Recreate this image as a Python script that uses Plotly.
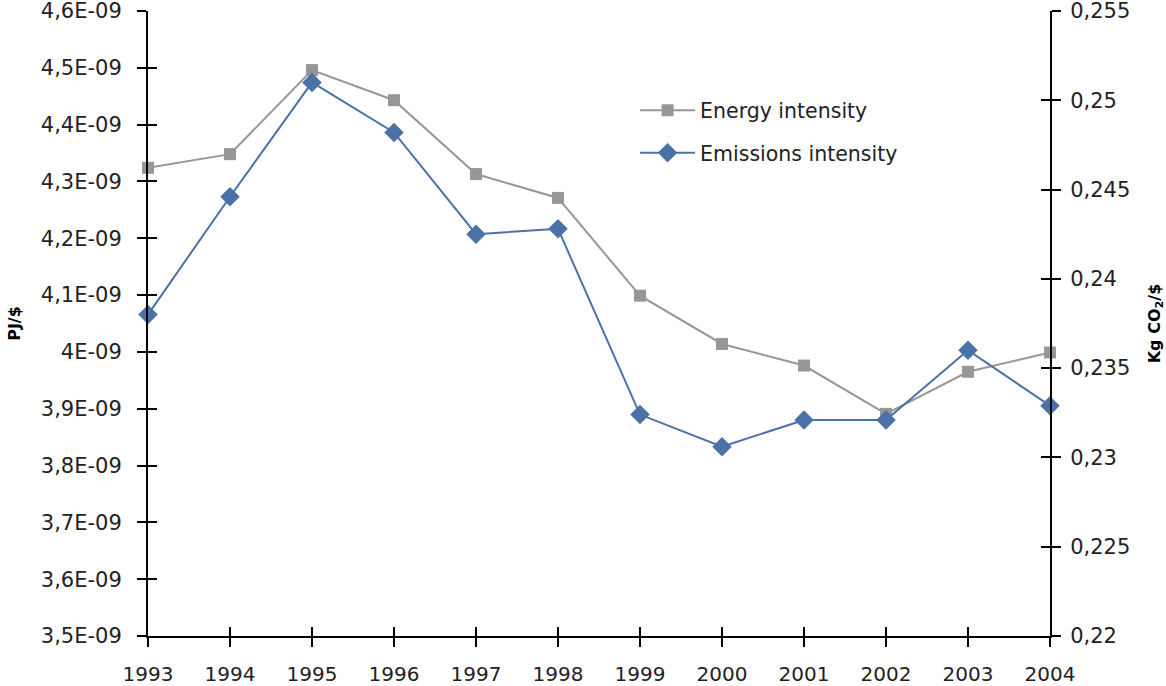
import plotly.graph_objects as go

years = [1993, 1994, 1995, 1996, 1997, 1998, 1999, 2000, 2001, 2002, 2003, 2004]
energy_intensity = [4.324e-9, 4.348e-9, 4.496e-9, 4.443e-9, 4.313e-9, 4.271e-9,
                    4.099e-9, 4.014e-9, 3.976e-9, 3.891e-9, 3.965e-9, 3.999e-9]
emissions_intensity = [0.2380, 0.2446, 0.2510, 0.2482, 0.2425, 0.2428,
                       0.2324, 0.2306, 0.2321, 0.2321, 0.2360, 0.2329]

left_tickvals = [3.5e-9, 3.6e-9, 3.7e-9, 3.8e-9, 3.9e-9, 4.0e-9, 4.1e-9, 4.2e-9, 4.3e-9, 4.4e-9, 4.5e-9, 4.6e-9]
left_ticktext = ["3,5E-09", "3,6E-09", "3,7E-09", "3,8E-09", "3,9E-09", "4E-09",
                 "4,1E-09", "4,2E-09", "4,3E-09", "4,4E-09", "4,5E-09", "4,6E-09"]
right_tickvals = [0.22, 0.225, 0.23, 0.235, 0.24, 0.245, 0.25, 0.255]
right_ticktext = ["0,22", "0,225", "0,23", "0,235", "0,24", "0,245", "0,25", "0,255"]

FONT = "DejaVu Sans"
TXT = "#222222"
GRAY = "#969799"
BLUE = "#4A72A6"

fig = go.Figure()
# invisible helper traces so the inner tick-mark axes get drawn
fig.add_trace(go.Scatter(x=years, y=energy_intensity, xaxis="x2", yaxis="y3", mode="lines",
                         line=dict(width=0, color="rgba(0,0,0,0)"), showlegend=False,
                         hoverinfo="skip"))
fig.add_trace(go.Scatter(x=years, y=emissions_intensity, xaxis="x2", yaxis="y4", mode="lines",
                         line=dict(width=0, color="rgba(0,0,0,0)"), showlegend=False,
                         hoverinfo="skip"))
fig.add_trace(go.Scatter(
    x=years, y=energy_intensity, name="Energy intensity", mode="lines+markers",
    line=dict(color=GRAY, width=2), marker=dict(symbol="square", size=12, color=GRAY),
    yaxis="y", legendgroup="a", cliponaxis=False))
fig.add_trace(go.Scatter(
    x=years, y=emissions_intensity, name="Emissions intensity", mode="lines+markers",
    line=dict(color=BLUE, width=2), marker=dict(symbol="diamond", size=15, color=BLUE),
    yaxis="y2", legendgroup="b", cliponaxis=False))

tickfont = dict(family=FONT, size=21, color=TXT)
common_y = dict(showgrid=False, zeroline=False, ticklen=9, tickwidth=2, tickcolor="black",
                automargin=False, ticklabeloverflow="allow")

fig.update_layout(
    width=1166, height=686,
    margin=dict(l=148, r=116, t=11, b=50, autoexpand=False),
    paper_bgcolor="white", plot_bgcolor="white",
    font=dict(family=FONT, color=TXT),
    showlegend=True,
    legend=dict(x=0.54, y=0.873, xanchor="left", yanchor="top",
                font=dict(family=FONT, size=20.5, color=TXT),
                traceorder="grouped", tracegroupgap=13, itemwidth=55,
                bgcolor="rgba(0,0,0,0)"),
    xaxis=dict(range=[1993, 2004], tickvals=years, ticktext=[str(y) for y in years],
               showline=True, linecolor="black", linewidth=2, ticks="outside",
               ticklen=9, tickwidth=2, tickcolor="black",
               tickfont=dict(family=FONT, size=20, color=TXT),
               showgrid=False, zeroline=False, ticklabelstandoff=10, automargin=False,
               ticklabeloverflow="allow"),
    yaxis=dict(range=[3.5e-9, 4.6e-9], tickvals=left_tickvals, ticktext=left_ticktext,
               showline=True, linecolor="black", linewidth=2, ticks="outside",
               tickfont=tickfont, ticklabelstandoff=11,
               title=dict(text="<b>PJ/$</b>", font=dict(family=FONT, size=16, color="black"), standoff=16),
               **common_y),
    yaxis2=dict(range=[0.22, 0.255], tickvals=right_tickvals, ticktext=right_ticktext,
                overlaying="y", side="right", anchor="x",
                showline=True, linecolor="black", linewidth=2, ticks="outside",
                tickfont=tickfont, ticklabelstandoff=5,
                title=dict(text="<b>Kg CO<sub>2</sub>/$</b>", font=dict(family=FONT, size=16, color="black"), standoff=22),
                **common_y),
    yaxis3=dict(range=[3.5e-9, 4.6e-9], tickvals=left_tickvals, overlaying="y", side="left",
                anchor="x2", ticks="inside", showticklabels=False, showline=False, **common_y),
    yaxis4=dict(range=[0.22, 0.255], tickvals=right_tickvals, overlaying="y", side="right",
                anchor="x2", ticks="inside", showticklabels=False, showline=False, **common_y),
    xaxis2=dict(range=[1993, 2004], tickvals=years, overlaying="x", side="bottom", anchor="y3",
                ticks="inside", showticklabels=False, showline=False, ticklen=9, tickwidth=2,
                tickcolor="black", showgrid=False, zeroline=False, automargin=False),
)

fig.write_html("out.html", config={"displayModeBar": False},
               post_script="document.body.style.margin='0';")
